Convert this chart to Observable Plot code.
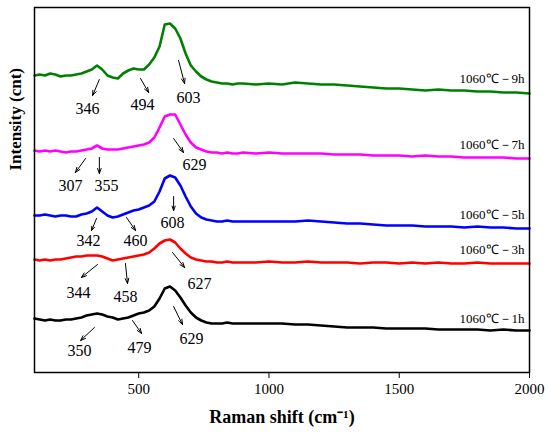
<!DOCTYPE html>
<html><head><meta charset="utf-8">
<script src="https://cdn.jsdelivr.net/npm/d3@7"></script>
<script src="https://cdn.jsdelivr.net/npm/@observablehq/plot@0.6"></script>
<style>body{margin:0;background:#fff}</style>
</head><body><div id="chart"></div>
<script>
// Raman shift positions (cm^-1)
const shiftX = [100,120,140,160,180,200,220,240,260,280,300,320,340,360,380,400,420,440,460,480,500,520,540,560,580,600,620,640,660,680,700,720,740,760,780,800,820,840,860,880,900,
  950,1000,1050,1100,1150,1200,1250,1300,1350,1400,1450,1500,1550,1600,1650,1700,1750,1800,1850,1900,1950,2000];

// Intensities (offset, arbitrary units)
const h9 = [297,298,297,299,298,296,297,297,298,299,301,303,307,303,297,295,294,299,302,304,303,303,308,315,326,348,349,344,334,319,307,301,296,293,291,290,289,289,288,289,289,
  288,289,288,290,289,288,288,287,286,285,284,284,283,282,283,282,282,281,281,280,280,279];
const h7 = [222,221,222,221,222,221,220,221,221,222,223,224,227,224,223,223,223,224,225,226,227,228,230,235,245,256,258,258,248,238,230,225,223,221,220,220,219,220,219,219,220,
  219,220,219,219,219,219,218,218,218,217,217,217,216,217,216,216,215,215,215,215,214,214];
const h5 = [157,157,158,157,156,157,157,156,156,158,159,161,165,161,157,155,156,158,160,162,163,165,167,171,181,194,197,195,187,176,166,159,155,153,152,151,151,152,151,151,151,
  151,151,151,151,152,151,150,149,149,148,147,147,147,146,146,146,145,146,145,145,144,144];
const h3 = [113,112,113,112,113,113,114,115,116,116,117,117,117,116,114,112,113,114,115,116,117,118,120,124,129,132,133,130,124,119,115,113,112,111,111,110,110,111,110,110,110,
  110,111,110,110,111,110,110,110,109,110,110,109,110,109,110,109,109,110,109,109,109,109];
const h1 = [54,53,52,53,52,52,53,53,54,55,57,58,59,58,56,55,53,54,55,57,59,60,62,66,74,84,86,82,75,67,60,55,52,50,49,49,49,50,49,49,49,
  49,49,49,48,48,47,46,45,45,45,44,44,44,44,43,43,43,43,42,43,42,42];

const seriesNames = ["1060℃－9h","1060℃－7h","1060℃－5h","1060℃－3h","1060℃－1h"];
const seriesColors = ["#008000","#ff00ff","#0000ff","#ff0000","#000000"];
const seriesLabelY = [294,228,158,123,54];
const xTicks = [500,1000,1500,2000];

// Peak annotations
const peakText = ["346","494","603","307","355","629","342","460","608","344","458","627","350","479","629"];
const peakX    = [303,515,691,238,376,714,307,488,630,269,449,733,273,503,703];
const peakY    = [264,268,275,187,187,208,132,132,150,80,76,89,22,25,34];
const arrX1 = [349,507,653,296,349,634,338,453,634,342,449,630,330,476,634];
const arrY1 = [293,294,312,214,215,234,154,155,176,108,109,120,45,52,66];
const arrX2 = [323,538,676,257,349,672,319,488,634,280,457,676,277,511,668];
const arrY2 = [277,280,289,200,199,220,142,142,162,95,89,105,32,39,48];

const allY = [h9,h7,h5,h3,h1];
const rows = [];
allY.forEach((arr,i)=>arr.forEach((v,j)=>rows.push({x:shiftX[j], y:v, s:seriesNames[i]})));
const peaks = peakText.map((t,i)=>({t, x:peakX[i], y:peakY[i]}));
const arrows = arrX1.map((v,i)=>({x1:v,y1:arrY1[i],x2:arrX2[i],y2:arrY2[i]}));
const slabels = seriesNames.map((n,i)=>({n, y:seriesLabelY[i]}));

const serif = '"Liberation Serif","Times New Roman",serif';
const plot = Plot.plot({
  width:550, height:433, marginLeft:34, marginRight:21, marginTop:7, marginBottom:61,
  style:{fontFamily:serif, background:"#fff", color:"#000"},
  x:{domain:[100,2000]},
  y:{domain:[0,365], axis:null},
  color:{domain:seriesNames, range:seriesColors},
  marks:[
    Plot.line(rows,{x:"x",y:"y",z:"s",stroke:"s",strokeWidth:2.6,curve:"linear"}),
    Plot.arrow(arrows,{x1:"x1",y1:"y1",x2:"x2",y2:"y2",stroke:"#000",strokeWidth:1,headLength:8,headAngle:40}),
    Plot.text(peaks,{x:"x",y:"y",text:"t",fontSize:16,fill:"#000"}),
    Plot.text(slabels,{x:1981,y:"y",text:"n",textAnchor:"end",fontSize:13,fill:"#000"}),
    Plot.axisX({ticks:xTicks, tickSize:6, tickPadding:5, fontSize:15, label:null, tickFormat:d=>String(d)}),
    Plot.frame({stroke:"#000", strokeWidth:1.5}),
    Plot.text(["Raman shift (cm⁻¹)"],{frameAnchor:"bottom", dy:50, fontSize:18, fontWeight:"bold", fill:"#000"}),
    Plot.text(["Intensity (cnt)"],{frameAnchor:"left", y:[202], dx:-19, rotate:-90, fontSize:17, fontWeight:"bold", fill:"#000"})
  ]
});
document.getElementById("chart").appendChild(plot);
</script>
</body></html>
